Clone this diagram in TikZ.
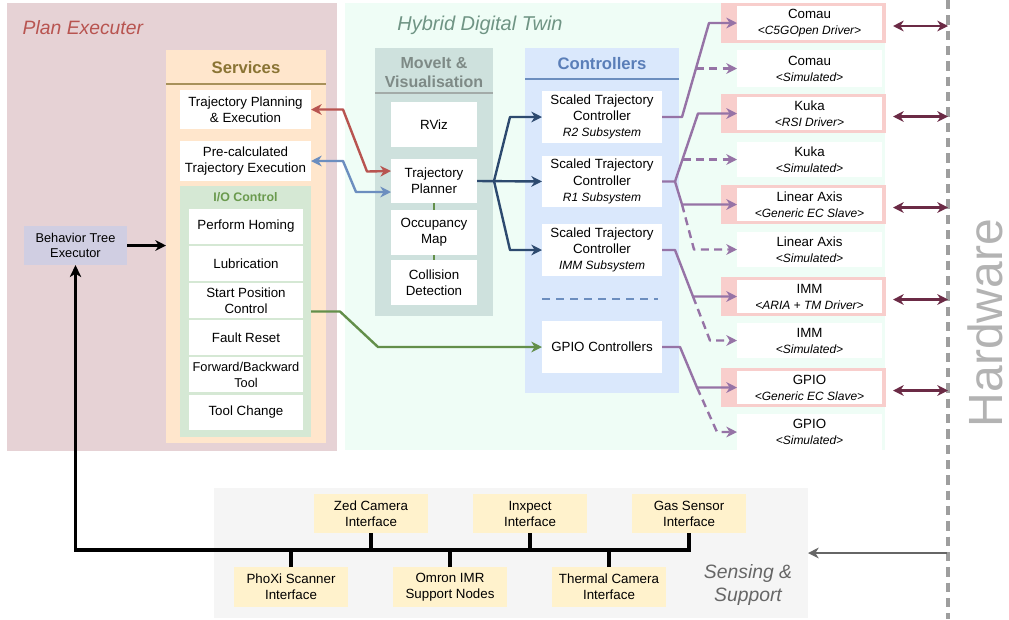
\documentclass[tikz,border=0pt]{standalone}
\usepackage{fontspec}
\setmainfont{Liberation Sans}
\usetikzlibrary{arrows.meta,calc}
\definecolor{peBg}{HTML}{E6D2D5}
\definecolor{peT}{HTML}{B85450}
\definecolor{orBg}{HTML}{FFE6CC}
\definecolor{srvT}{HTML}{8A7434}
\definecolor{srvL}{HTML}{A8915A}
\definecolor{grBg}{HTML}{D5E8D4}
\definecolor{grT}{HTML}{6A9A4E}
\definecolor{btBg}{HTML}{D0CEE2}
\definecolor{hdBg}{HTML}{EFFDF6}
\definecolor{hdT}{HTML}{6F9484}
\definecolor{mvBg}{HTML}{CEE1DD}
\definecolor{mvT}{HTML}{7E8A86}
\definecolor{mvL}{HTML}{A3ABA8}
\definecolor{ctBg}{HTML}{DAE8FC}
\definecolor{ctT}{HTML}{5A7EB8}
\definecolor{ctL}{HTML}{6C8EBF}
\definecolor{pinkBg}{HTML}{F8CECC}
\definecolor{snBg}{HTML}{F5F5F5}
\definecolor{snT}{HTML}{666666}
\definecolor{yelBg}{HTML}{FFF2CC}
\definecolor{cRed}{HTML}{B85450}
\definecolor{cBlue}{HTML}{6C8EBF}
\definecolor{cNavy}{HTML}{2D4A6F}
\definecolor{cGreen}{HTML}{638F4A}
\definecolor{cPurp}{HTML}{9673A6}
\definecolor{cMar}{HTML}{6B2A45}
\definecolor{hwG}{HTML}{9E9E9E}
\definecolor{hwTxt}{HTML}{B3B3B3}
\newcommand\mybox[7][]{\node[outer sep=0pt,inner sep=0pt,align=center,#1,minimum width={(#4-(#2))*0.75pt},minimum height={(#5-(#3))*0.75pt}] (#6) at ({(#2+#4)/2},{(#3+#5)/2}) {#7};}
\newcommand\sub[1]{{\fontsize{9}{12}\selectfont\itshape #1}}
\tikzset{
  every node/.style={font=\fontsize{10}{12}\selectfont},
  wbox/.style={fill=white},
  tip/.style={-{Stealth[length=8pt,width=8pt,inset=2.5pt]}},
  tips/.style={{Stealth[length=8pt,width=8pt,inset=2.5pt]}-{Stealth[length=8pt,width=8pt,inset=2.5pt]}},
  conn/.style={line width=1.8pt,line join=round},
  pdash/.style={conn,cPurp,tip,dash pattern=on 6pt off 4pt},
  bus/.style={line width=2.4pt,black},
}
\begin{document}
\begin{tikzpicture}[x=0.75pt,y=-0.75pt]
\useasboundingbox (0,0) rectangle (1009,619);
\fill[white] (0,0) rectangle (1009,619);
% ---------- Plan Executer ----------
\mybox[fill=peBg]{7}{3}{337}{451}{pe}{}
\node[anchor=west,font=\fontsize{14.5}{16}\selectfont\itshape,text=peT] (peTitle) at (18,28) {Plan Executer};
\mybox[fill=orBg]{166}{50}{326}{443}{srv}{}
\node[font=\fontsize{12.5}{14}\selectfont\bfseries,text=srvT] (srvTitle) at (246,68) {Services};
\draw[srvL,line width=1pt] (srv.west |- 0,84) -- (srv.east |- 0,84);
\mybox[wbox]{180}{90}{311}{129}{tpe}{Trajectory Planning\\\& Execution}
\mybox[wbox]{180}{141}{311}{181}{pce}{Pre-calculated\\Trajectory Execution}
\mybox[fill=grBg]{180}{186}{311}{437}{io}{}
\node[font=\fontsize{9.3}{11}\selectfont\bfseries,text=grT] (ioTitle) at (245.5,197) {I/O Control};
\mybox[wbox]{189}{209}{303}{244}{hom}{Perform Homing}
\mybox[wbox]{189}{246}{303}{281}{lub}{Lubrication}
\mybox[wbox]{189}{283}{303}{318}{spc}{Start Position\\Control}
\mybox[wbox]{189}{320}{303}{355}{flt}{Fault Reset}
\mybox[wbox,font=\fontsize{9.6}{12}\selectfont]{189}{357}{303}{392}{fwd}{Forward/Backward\\Tool}
\mybox[wbox]{189}{395}{303}{430}{tch}{Tool Change}
\mybox[fill=btBg,font=\fontsize{9.6}{11.8}\selectfont]{24}{226}{127}{265}{bt}{Behavior Tree\\Executor}
% ---------- Hybrid Digital Twin ----------
\mybox[fill=hdBg]{345}{3}{885}{450}{hd}{}
\node[font=\fontsize{15}{17}\selectfont\itshape,text=hdT] (hdTitle) at (480,25) {Hybrid Digital Twin};
\mybox[fill=mvBg]{375}{48}{493}{316}{mv}{}
\node[font=\fontsize{12}{14.3}\selectfont\bfseries,text=mvT,align=center] (mvTitle) at (434,73) {MoveIt \&\\Visualisation};
\draw[mvL,line width=1pt] (mv.west |- 0,93) -- (mv.east |- 0,93);
\mybox[wbox]{391}{102}{477}{147}{rviz}{RViz}
\mybox[wbox]{391}{159}{477}{203}{plan}{Trajectory\\Planner}
\mybox[wbox]{391}{210}{477}{255}{occ}{Occupancy\\Map}
\mybox[wbox]{391}{260}{477}{305}{col}{Collision\\Detection}
\draw[cGreen,line width=1.8pt] (plan.south) -- (occ.north);
\draw[cGreen,line width=1.8pt] (occ.south) -- (col.north);
\mybox[fill=ctBg]{525}{48}{679}{393}{ct}{}
\node[font=\fontsize{12.5}{14}\selectfont\bfseries,text=ctT] (ctTitle) at (602,64) {Controllers};
\draw[ctL,line width=1pt] (ct.west |- 0,79) -- (ct.east |- 0,79);
\mybox[wbox,font=\fontsize{10}{12.3}\selectfont]{542}{91}{662}{143}{r2}{Scaled Trajectory\\Controller\\\sub{R2 Subsystem}}
\mybox[wbox,font=\fontsize{10}{12.3}\selectfont]{542}{156}{662}{207}{r1}{Scaled Trajectory\\Controller\\\sub{R1 Subsystem}}
\mybox[wbox,font=\fontsize{10}{12.3}\selectfont]{542}{224}{662}{276}{imm}{Scaled Trajectory\\Controller\\\sub{IMM Subsystem}}
\coordinate (dlA) at (542,299);
\coordinate (dlB) at (658,299);
\draw[ctL,line width=1.8pt,dash pattern=on 6pt off 4.5pt] (dlA) -- (dlB);
\mybox[wbox]{542}{321}{662}{373}{gpc}{GPIO Controllers}
% ---------- devices ----------
\mybox[fill=pinkBg]{721}{3}{886}{43}{comauO}{}
\mybox[wbox]{737}{6}{882}{40}{comauI}{Comau\\\sub{<C5GOpen Driver>}}
\mybox[wbox]{737}{50}{882}{87}{comauS}{Comau\\\sub{<Simulated>}}
\mybox[fill=pinkBg]{721}{94}{886}{133}{kukaO}{}
\mybox[wbox]{737}{97}{882}{130}{kukaI}{Kuka\\\sub{<RSI Driver>}}
\mybox[wbox]{737}{142}{882}{177}{kukaS}{Kuka\\\sub{<Simulated>}}
\mybox[fill=pinkBg]{721}{185}{886}{224}{linO}{}
\mybox[wbox]{737}{188}{882}{221}{linI}{Linear Axis\\\sub{<Generic EC Slave>}}
\mybox[wbox]{737}{232}{882}{267}{linS}{Linear Axis\\\sub{<Simulated>}}
\mybox[fill=pinkBg]{721}{277}{886}{316}{immO}{}
\mybox[wbox]{737}{280}{882}{313}{immI}{IMM\\\sub{<ARIA + TM Driver>}}
\mybox[wbox]{737}{323}{882}{358}{immS}{IMM\\\sub{<Simulated>}}
\mybox[fill=pinkBg]{721}{368}{886}{407}{gpO}{}
\mybox[wbox]{737}{371}{882}{404}{gpI}{GPIO\\\sub{<Generic EC Slave>}}
\mybox[wbox]{737}{414}{882}{450}{gpS}{GPIO\\\sub{<Simulated>}}
% ---------- hardware ----------
\coordinate (hwTop) at (948,0);
\coordinate (hwBot) at (948,619);
\draw[hwG,line width=2.4pt,dash pattern=on 7pt off 4.5pt] (hwTop) -- (hwBot);
\node[rotate=90,font=\fontsize{36}{40}\selectfont,text=hwTxt,inner sep=0pt] (hwLabel) at (985,323) {Hardware};
\foreach \d in {comauO,kukaO,linO,immO,gpO}{
  \draw[cMar,line width=1.8pt,tips] ([xshift=5.25pt,yshift=-2.25pt]\d.east) -- ([yshift=-2.25pt]\d.east -| hwTop) ;
}
% ---------- sensing ----------
\mybox[fill=snBg]{214}{488}{808}{618}{sn}{}
\node[font=\fontsize{14.5}{17}\selectfont\itshape,text=snT,align=center] (snTitle) at (748,585) {Sensing \&\\Support};
\mybox[fill=yelBg]{314}{494}{428}{533}{zed}{Zed Camera\\Interface}
\mybox[fill=yelBg]{473}{494}{587}{533}{inx}{Inxpect\\Interface}
\mybox[fill=yelBg]{632}{494}{746}{533}{gas}{Gas Sensor\\Interface}
\mybox[fill=yelBg]{234}{567}{348}{607}{pho}{PhoXi Scanner\\Interface}
\mybox[fill=yelBg]{393}{567}{507}{607}{omr}{Omron IMR\\Support Nodes}
\mybox[fill=yelBg]{552}{567}{666}{607}{thm}{Thermal Camera\\Interface}
\coordinate (busY) at (0,550);
\draw[bus,line join=miter,-{Stealth[length=9pt,width=8.5pt,inset=2.5pt]}] (gas.south) -- (gas.south |- busY) -- (bt.south |- busY) -- (bt.south);
\foreach \s in {zed,inx}{ \draw[bus] (\s.south) -- (\s.south |- busY); }
\foreach \s in {pho,omr,thm}{ \draw[bus] (\s.north) -- (\s.north |- busY); }
\coordinate (hwS) at (946.5,553);
\draw[snT,line width=1.8pt,tip] (hwS) -- (sn.east);
% ---------- connectors ----------
\draw[black,line width=1.8pt,tip] (bt.east) -- (srv.west |- bt.east);
\draw[conn,cRed,tips] (tpe.east) -- (343,109.5) -- (367,171.5) -- ([yshift=7.5pt]plan.west);
\draw[conn,cBlue,tips] (pce.east) -- (343,161) -- (356,192) -- ([yshift=-8.25pt]plan.west);
\draw[conn,cNavy,tip] (plan.east) -- (r1.west);
\draw[conn,cNavy,tip] (494,181) -- (510,117) -- (r2.west);
\draw[conn,cNavy,tip] (494,181) -- (510,250) -- (imm.west);
\draw[conn,cGreen,tip] (io.east) -- (340,311.5) -- (378,347) -- (gpc.west);
% purple
\draw[conn,cPurp,tip] (r2.east) -- (682,117) -- (709,23) -- (comauI.west);
\draw[pdash] (696,68.5) -- (comauS.west);
\draw[conn,cPurp,tip] (r1.east) -- (675,181.5) -- (698,113.5) -- (kukaI.west);
\draw[pdash] (682.6,159.5) -- (kukaS.west);
\draw[conn,cPurp,tip] (675,181.5) -- (682,204.5) -- (linI.west);
\draw[pdash] (682,204.5) -- (694,249.5) -- (linS.west);
\draw[conn,cPurp,tip] (imm.east) -- (675,250) -- (693,296.5) -- (immI.west);
\draw[pdash] (693,296.5) -- (710,340.5) -- (immS.west);
\draw[conn,cPurp,tip] (gpc.east) -- (680,347) -- (697,387.5) -- (gpI.west);
\draw[pdash] (697,387.5) -- (717,432) -- (gpS.west);
\end{tikzpicture}
\end{document}
